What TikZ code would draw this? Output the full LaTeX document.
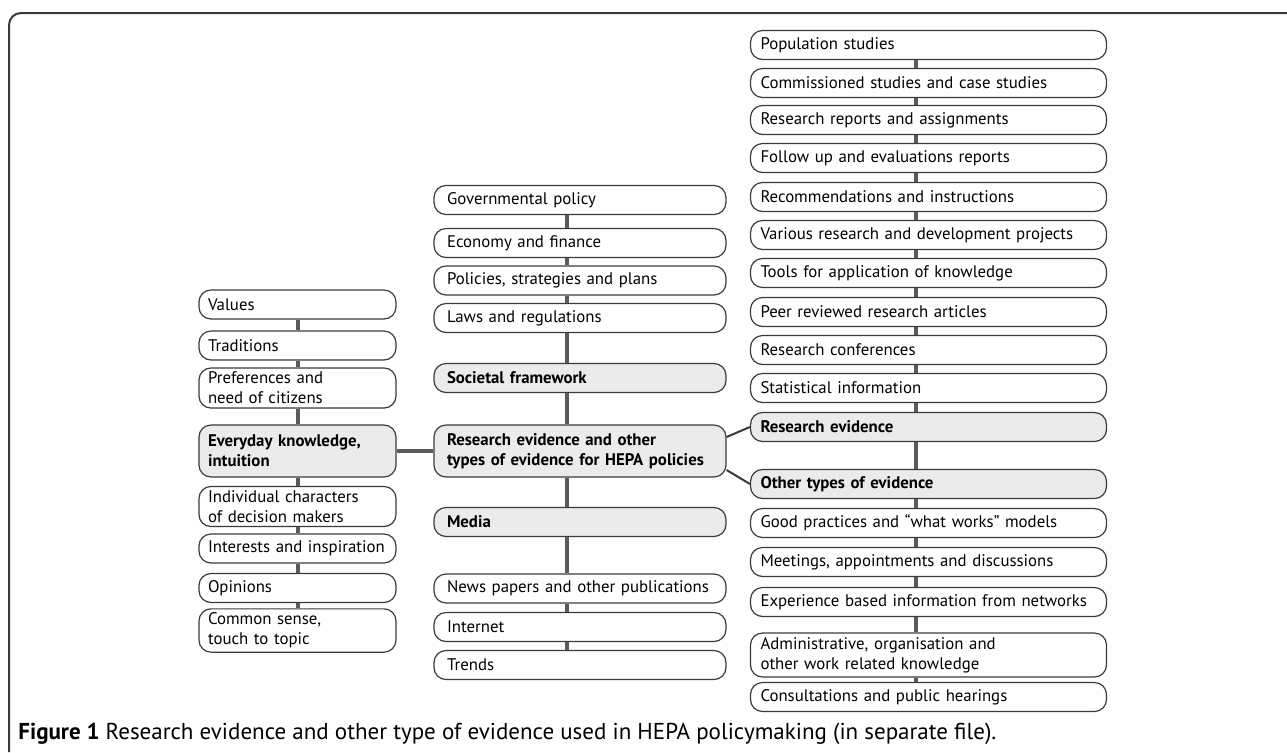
\documentclass[tikz,border=0pt]{standalone}
\usepackage{fontspec}
\setmainfont{PT Sans}
\usepackage{xcolor}
\usepackage{tikz}
\definecolor{boxline}{HTML}{3A3A3A}
\definecolor{boxfill}{HTML}{EBEBEB}
\definecolor{linkgray}{HTML}{5A5A5A}
\newcommand\boxfont{\fontsize{8.4}{10}\selectfont\hyphenpenalty10000\relax}

\begin{document}
\begin{tikzpicture}[x=0.5pt,y=-0.5pt]
    \tikzstyle{item} = [draw=boxline,line width=0.6pt,rounded corners=6pt,
        inner xsep=6.5pt,inner ysep=2pt,minimum height=14.5pt,align=left,
        font=\boxfont]
    \tikzstyle{lcol} = [item,inner xsep=4.5pt,text width=89.5pt]
    \tikzstyle{mcol} = [item,text width=133pt]
    \tikzstyle{rcol} = [item,inner xsep=5pt,text width=168pt]
    \tikzstyle{head} = [fill=boxfill,font=\boxfont\bfseries]
    \tikzstyle{link} = [draw=linkgray,line width=1.6pt]
    \useasboundingbox (0,0) rectangle (1287,752);

    % frame
    \draw[line width=1pt,rounded corners=6pt,boxline] (9,752) -- (9,13) -- (1287,13);

    % left column
    \node[lcol] at (297.5,304.5) (val) {Values};
    \node[lcol] at (297.5,345.5) (trad) {Traditions};
    \node[lcol,minimum height=19pt] at (297.5,388) (pref) {Preferences and\\need of citizens};
    \node[lcol,head,minimum height=26pt] at (297.5,451) (every) {Everyday knowledge,\\intuition};
    \node[lcol,minimum height=18.5pt] at (297.5,506.5) (indiv) {Individual characters\\of decision makers};
    \node[lcol] at (297.5,548.5) (inter) {Interests and inspiration};
    \node[lcol] at (297.5,588) (opin) {Opinions};
    \node[lcol,minimum height=18.5pt] at (297.5,630.5) (comm) {Common sense,\\touch to topic};

    % middle column
    \node[mcol] at (580,200) (gov) {Governmental policy};
    \node[mcol] at (580,243) (econ) {Economy and finance};
    \node[mcol] at (580,280.5) (pol) {Policies, strategies and plans};
    \node[mcol] at (580,318) (laws) {Laws and regulations};
    \node[mcol,head] at (580,378) (soc) {Societal framework};
    \node[mcol,head,minimum height=26pt] at (580,451) (cen) {Research evidence and other\\types of evidence for HEPA policies};
    \node[mcol,head] at (580,522) (media) {Media};
    \node[mcol] at (580,588.5) (news) {News papers and other publications};
    \node[mcol] at (580,627) (inet) {Internet};
    \node[mcol] at (580,665) (trend) {Trends};

    % right column
    \node[rcol] at (928.5,45) (popu) {Population studies};
    \node[rcol] at (928.5,83) (comst) {Commissioned studies and case studies};
    \node[rcol] at (928.5,120) (rrep) {Research reports and assignments};
    \node[rcol] at (928.5,158) (follow) {Follow up and evaluations reports};
    \node[rcol] at (928.5,197) (recom) {Recommendations and instructions};
    \node[rcol] at (928.5,235) (rdev) {Various research and development projects};
    \node[rcol] at (928.5,273) (tools) {Tools for application of knowledge};
    \node[rcol] at (928.5,312) (peer) {Peer reviewed research articles};
    \node[rcol] at (928.5,350) (rconf) {Research conferences};
    \node[rcol] at (928.5,388) (stat) {Statistical information};
    \node[rcol,head] at (928.5,427) (resev) {Research evidence};
    \node[rcol,head] at (928.5,484) (othev) {Other types of evidence};
    \node[rcol] at (928.5,523) (good) {Good practices and “what works” models};
    \node[rcol] at (928.5,562) (meet) {Meetings, appointments and discussions};
    \node[rcol] at (928.5,602) (exper) {Experience based information from networks};
    \node[rcol,minimum height=22pt] at (928.5,655) (admin) {Administrative, organisation and\\other work related knowledge};
    \node[rcol] at (928.5,697) (consult) {Consultations and public hearings};

    % connector columns
    \coordinate (lx) at (298,0);
    \coordinate (mx) at (567,0);
    \coordinate (rx) at (916,0);

    \draw[link] (val.south -| lx) -- (trad.north -| lx);
    \draw[link] (trad.south -| lx) -- (pref.north -| lx);
    \draw[link] (pref.south -| lx) -- (every.north -| lx);
    \draw[link] (every.south -| lx) -- (indiv.north -| lx);
    \draw[link] (indiv.south -| lx) -- (inter.north -| lx);
    \draw[link] (inter.south -| lx) -- (opin.north -| lx);
    \draw[link] (opin.south -| lx) -- (comm.north -| lx);

    \draw[link] (gov.south -| mx) -- (econ.north -| mx);
    \draw[link] (econ.south -| mx) -- (pol.north -| mx);
    \draw[link] (pol.south -| mx) -- (laws.north -| mx);
    \draw[link] (laws.south -| mx) -- (soc.north -| mx);
    \draw[link] (soc.south -| mx) -- (cen.north -| mx);
    \draw[link] (cen.south -| mx) -- (media.north -| mx);
    \draw[link] (media.south -| mx) -- (news.north -| mx);
    \draw[link] (news.south -| mx) -- (inet.north -| mx);
    \draw[link] (inet.south -| mx) -- (trend.north -| mx);

    \draw[link] (popu.south -| rx) -- (comst.north -| rx);
    \draw[link] (comst.south -| rx) -- (rrep.north -| rx);
    \draw[link] (rrep.south -| rx) -- (follow.north -| rx);
    \draw[link] (follow.south -| rx) -- (recom.north -| rx);
    \draw[link] (recom.south -| rx) -- (rdev.north -| rx);
    \draw[link] (rdev.south -| rx) -- (tools.north -| rx);
    \draw[link] (tools.south -| rx) -- (peer.north -| rx);
    \draw[link] (peer.south -| rx) -- (rconf.north -| rx);
    \draw[link] (rconf.south -| rx) -- (stat.north -| rx);
    \draw[link] (stat.south -| rx) -- (resev.north -| rx);
    \draw[link] (resev.south -| rx) -- (othev.north -| rx);
    \draw[link] (othev.south -| rx) -- (good.north -| rx);
    \draw[link] (good.south -| rx) -- (meet.north -| rx);
    \draw[link] (meet.south -| rx) -- (exper.north -| rx);
    \draw[link] (exper.south -| rx) -- (admin.north -| rx);
    \draw[link] (admin.south -| rx) -- (consult.north -| rx);

    % cross links
    \draw[link] (every.east) -- (cen.west);
    \draw[draw=boxline,line width=1pt] ([yshift=7pt]cen.east) -- (resev.west);
    \draw[draw=boxline,line width=1pt] ([yshift=-9.5pt]cen.east) -- (othev.west);

    % caption
    \node[anchor=west,inner sep=0pt,font=\fontsize{11.5}{13}\selectfont] at (18,734) (capt)
        {\textbf{Figure 1} Research evidence and other type of evidence used in HEPA policymaking (in separate file).};
\end{tikzpicture}
\end{document}
